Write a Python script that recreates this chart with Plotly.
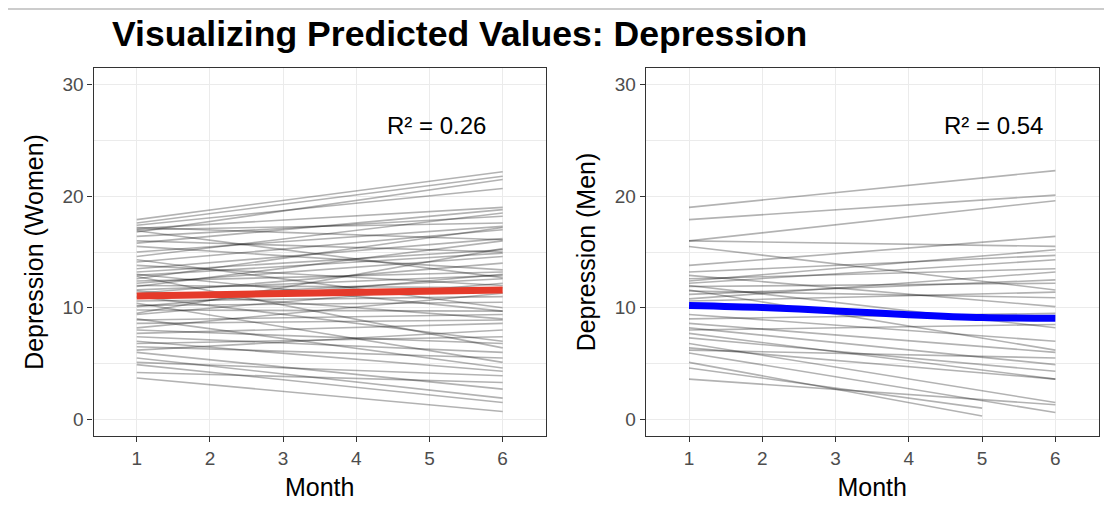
import plotly.graph_objects as go

# Months on the x axis
months = [1, 2, 3, 4, 5, 6]

# Women: predicted depression at month 1 and month 6 for each person
women_start = [17.9, 17.6, 17.4, 17.1, 16.8, 16.4, 15.8, 17.2, 15.0, 14.6,
               14.1, 13.5, 13.2, 12.9, 12.6, 12.2, 11.9, 12.4, 11.6, 11.3,
               10.9, 10.6, 10.1, 9.8, 9.5, 9.4, 8.9, 8.6, 8.2, 7.7,
               7.4, 6.8, 6.5, 6.2, 5.1, 4.9, 4.2, 3.7, 13.0, 14.3,
               16.9, 12.8, 11.0, 10.4, 9.0, 7.0, 6.0, 5.5, 15.5, 17.0,
               16.0, 11.5, 10.2, 8.0, 12.0, 13.8]
women_end = [22.2, 21.8, 20.7, 19.0, 21.5, 18.2, 18.8, 16.1, 17.3, 18.5,
             17.0, 16.2, 15.2, 14.9, 17.2, 14.6, 16.0, 13.2, 12.9, 14.0,
             12.6, 11.0, 13.0, 9.7, 15.3, 12.2, 9.4, 8.9, 11.3, 8.6,
             6.0, 7.4, 5.5, 8.0, 3.9, 1.5, 3.3, 0.7, 9.7, 10.0,
             12.7, 6.4, 7.0, 5.1, 4.6, 4.3, 2.7, 1.9, 13.4, 17.6,
             15.0, 9.0, 10.5, 6.8, 11.8, 12.0]
women_mean = [11.05, 11.15, 11.25, 11.35, 11.45, 11.6]

# Men: predicted depression at the first and last observed month
men_start = [19.0, 17.9, 16.0, 16.0, 15.5, 13.8, 13.2, 12.6, 12.2, 11.9,
             11.5, 11.2, 12.9, 12.0, 11.6, 10.6, 8.6, 8.2, 7.7, 7.3,
             6.8, 6.4, 5.95, 5.1, 4.6, 3.6, 9.0, 10.8, 9.4, 12.4,
             8.0, 6.2]
men_end = [22.3, 20.1, 19.6, 15.5, 11.6, 16.4, 14.7, 13.5, 14.3, 12.2,
           10.9, 12.5, 10.1, 8.2, 6.2, 11.4, 6.0, 4.9, 3.6, 4.3,
           1.5, 3.6, 0.6, 0.3, 1.0, 1.3, 9.5, 13.2, 7.0, 15.2,
           8.5, 5.5]
men_last_month = [6, 6, 6, 6, 6, 6, 6, 6, 6, 6,
                  6, 6, 6, 6, 6, 6, 6, 6, 6, 6,
                  6, 6, 6, 5, 5, 6, 6, 6, 6, 6,
                  6, 6]
men_mean = [10.2, 10.02, 9.72, 9.38, 9.12, 9.05]

r2_labels = ["R² = 0.26", "R² = 0.54"]

FONT = "Liberation Sans, Arial, Helvetica, sans-serif"
GRID = "#EBEBEB"
AXIS = "#333333"
INDIV = "rgba(0,0,0,0.3)"

fig = go.Figure()

for s, e in zip(women_start, women_end):
    fig.add_trace(go.Scatter(x=[1, 6], y=[s, e], mode="lines",
                             line=dict(color=INDIV, width=1.6),
                             hoverinfo="skip", showlegend=False,
                             xaxis="x", yaxis="y"))
fig.add_trace(go.Scatter(x=months, y=women_mean, mode="lines",
                         line=dict(color="#E53A2A", width=7),
                         showlegend=False, xaxis="x", yaxis="y"))

for s, e, m in zip(men_start, men_end, men_last_month):
    fig.add_trace(go.Scatter(x=[1, m], y=[s, e], mode="lines",
                             line=dict(color=INDIV, width=1.6),
                             hoverinfo="skip", showlegend=False,
                             xaxis="x2", yaxis="y2"))
fig.add_trace(go.Scatter(x=months, y=men_mean, mode="lines",
                         line=dict(color="#0000FF", width=7, shape="spline", smoothing=0.8),
                         showlegend=False, xaxis="x2", yaxis="y2"))

xcommon = dict(range=[0.41, 6.59], tickvals=months, showgrid=True,
               gridcolor=GRID, gridwidth=1.4, zeroline=False,
               ticks="outside", ticklen=5, tickcolor=AXIS, tickwidth=1.3,
               tickfont=dict(family=FONT, size=19, color="#4D4D4D"),
               showline=True, linecolor=AXIS, linewidth=1.3, mirror=True,
               title=dict(text="Month", font=dict(family=FONT, size=25, color="black"),
                          standoff=10))
ycommon = dict(range=[-1.5, 31.5], tickvals=[0, 10, 20, 30], showgrid=True,
               gridcolor=GRID, gridwidth=1.4, zeroline=False,
               minor=dict(dtick=5, tick0=0, showgrid=True, gridcolor=GRID, gridwidth=1.4),
               ticks="outside", ticklen=5, tickcolor=AXIS, tickwidth=1.3,
               tickfont=dict(family=FONT, size=19, color="#4D4D4D"),
               showline=True, linecolor=AXIS, linewidth=1.3, mirror=True,
               domain=[1 - 436 / 508, 1 - 68 / 508])

fig.update_layout(
    width=1104, height=508,
    margin=dict(l=0, r=0, t=0, b=0),
    paper_bgcolor="white", plot_bgcolor="white",
    font=dict(family=FONT),
    xaxis=dict(xcommon, domain=[93.6 / 1104, 545.8 / 1104], anchor="y"),
    yaxis=dict(ycommon, anchor="x",
               title=dict(text="Depression (Women)",
                          font=dict(family=FONT, size=25, color="black"), standoff=11)),
    xaxis2=dict(xcommon, domain=[645.8 / 1104, 1098.6 / 1104], anchor="y2"),
    yaxis2=dict(ycommon, anchor="x2",
                title=dict(text="Depression (Men)",
                           font=dict(family=FONT, size=25, color="black"), standoff=11)),
    title=dict(text="<b>Visualizing Predicted Values: Depression</b>",
               font=dict(family=FONT, size=35.6, color="black"),
               x=112 / 1104, xanchor="left", y=1 - 34 / 508, yanchor="middle"),
    shapes=[dict(type="line", xref="paper", yref="paper",
                 x0=8 / 1104, x1=1, y0=1 - 9 / 508, y1=1 - 9 / 508,
                 line=dict(color="#BBBBBB", width=1.5))],
    annotations=[
        dict(text=r2_labels[0], x=5.1, y=26.3, xref="x", yref="y",
             showarrow=False, font=dict(family=FONT, size=24, color="black")),
        dict(text=r2_labels[1], x=5.15, y=26.3, xref="x2", yref="y2",
             showarrow=False, font=dict(family=FONT, size=24, color="black")),
    ],
)

fig.write_html("out.html")
